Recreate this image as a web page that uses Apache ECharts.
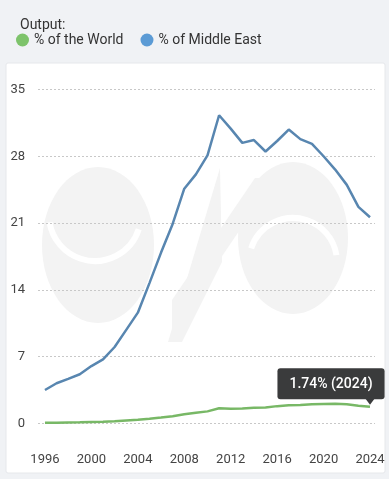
<!DOCTYPE html>
<html><head><meta charset="utf-8">
<script src="https://cdn.jsdelivr.net/npm/echarts@6/dist/echarts.min.js"></script>
<style>html,body{margin:0;padding:0;background:#f0f2f5;}#c{width:389px;height:479px;}</style>
</head><body><div id="c"></div>
<script>
const years = [1996,1997,1998,1999,2000,2001,2002,2003,2004,2005,2006,2007,2008,2009,2010,2011,2012,2013,2014,2015,2016,2017,2018,2019,2020,2021,2022,2023,2024];
const worldShare = [0.05,0.07,0.09,0.11,0.14,0.17,0.22,0.30,0.38,0.47,0.60,0.75,0.95,1.10,1.25,1.57,1.52,1.55,1.62,1.65,1.80,1.88,1.92,2.00,2.03,2.04,2.00,1.85,1.74];
const middleEastShare = [3.49,4.2,4.65,5.14,6.0,6.7,8.0,9.8,11.6,14.7,17.9,20.9,24.6,26.1,28.1,32.3,30.9,29.4,29.7,28.5,29.6,30.8,29.8,29.3,28.0,26.6,25.0,22.7,21.6];
const yTicks = [0,7,14,21,28,35];
const xTickLabels = [1996,2000,2004,2008,2012,2016,2020,2024];
const seriesNames = ['% of the World','% of Middle East'];

const chart = echarts.init(document.getElementById('c'));
const font = 'Roboto, "Noto Sans", sans-serif';
const wm = '#f3f3f3';
const last = worldShare.length - 1;
chart.setOption({
  backgroundColor: '#f0f2f5',
  textStyle: {fontFamily: font},
  animation: false,
  graphic: [
    {type:'rect', shape:{x:6,y:63,width:379,height:410,r:2}, style:{fill:'#ffffff', stroke:'#e6e8eb'}, z:-10},
    {type:'ellipse', shape:{cx:98,cy:245,rx:56,ry:78}, style:{fill:wm}, z:-9},
    {type:'ellipse', shape:{cx:293,cy:238,rx:55,ry:76}, style:{fill:wm}, z:-9},
    {type:'polygon', shape:{points:[[168,342],[220,168],[222,262],[182,342]]}, style:{fill:wm}, z:-9},
    {type:'polygon', shape:{points:[[172,300],[255,178],[275,178],[172,330]]}, style:{fill:wm}, z:-9},
    {type:'arc', shape:{cx:95,cy:215,r:46,startAngle:Math.PI*0.1,endAngle:Math.PI*0.95}, style:{stroke:'#ffffff',lineWidth:6,fill:null}, z:-8},
    {type:'arc', shape:{cx:293,cy:262,r:44,startAngle:Math.PI*1.1,endAngle:Math.PI*1.95}, style:{stroke:'#ffffff',lineWidth:6,fill:null}, z:-8}
  ],
  title: {text:'Output:', left:15, top:13, textStyle:{fontSize:14, fontWeight:'normal', color:'#333', fontFamily:font}},
  legend: {
    left: 11, top: 28, icon: 'circle', itemWidth: 13, itemHeight: 13, itemGap: 17,
    textStyle: {fontSize: 14, color: '#333', fontFamily: font},
    data: [
      {name: seriesNames[0], itemStyle:{color:'#7dc36b'}},
      {name: seriesNames[1], itemStyle:{color:'#5b9bd5'}}
    ]
  },
  grid: {left:38, right:14, top:89.5, bottom:55.7},
  xAxis: {
    type:'value', min:1995.4, max:2024.43,
    axisLine:{show:false}, axisTick:{show:false}, splitLine:{show:false},
    axisLabel:{customValues: xTickLabels, formatter: v => String(v), fontSize:13, color:'#444', margin:30, fontFamily:font}
  },
  yAxis: {
    type:'value', min:0, max:35, interval:7,
    axisLine:{show:false}, axisTick:{show:false},
    axisLabel:{fontSize:13, color:'#444', margin:13, fontFamily:font},
    splitLine:{lineStyle:{type:[2,2], color:'#c8c8c8', width:1}}
  },
  series: [
    {
      name: seriesNames[0], type:'line', symbol:'none', color:'#7dc36b',
      lineStyle:{width:2.5, color:'#78b866'}, z:3,
      data: years.map((y,i)=>[y, worldShare[i]]),
      markPoint: {
        data:[
          {coord:[years[last], worldShare[last]], symbol:'triangle', symbolSize:[9,6], symbolRotate:180, symbolOffset:[0,-5],
           itemStyle:{color:'#3a3b3c'}, label:{show:false}},
          {coord:[years[last], worldShare[last]], symbol:'circle', symbolSize:1, itemStyle:{color:'rgba(0,0,0,0)'},
           label:{show:true, position:'top', distance:7, offset:[-39,0],
             formatter: worldShare[last].toFixed(2)+'% ('+years[last]+')', backgroundColor:'#3a3b3c', color:'#fff',
             padding:[9,12,8,12], borderRadius:3, fontSize:14, fontWeight:500, fontFamily:font}}
        ]
      }
    },
    {
      name: seriesNames[1], type:'line', symbol:'none', color:'#5b9bd5',
      lineStyle:{width:2.5, color:'#5886b0'}, z:2,
      data: years.map((y,i)=>[y, middleEastShare[i]])
    }
  ]
});
</script></body></html>
